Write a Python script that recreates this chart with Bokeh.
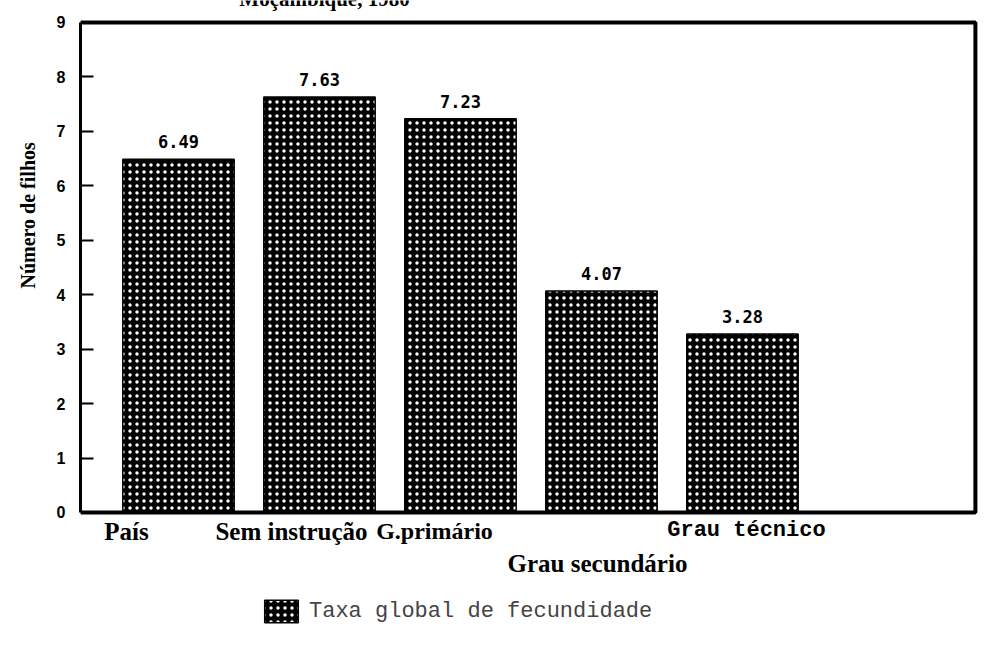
from bokeh.plotting import figure
from bokeh.models import (ColumnDataSource, LabelSet, Label, Range1d, FixedTicker,
                          Legend, LegendItem, Title)
from bokeh.core.properties import value
from bokeh.embed import file_html
from bokeh.resources import INLINE

# ---- data ----
categories = ["País", "Sem instrução", "G.primário", "Grau secundário", "Grau técnico"]
tgf = [6.49, 7.63, 7.23, 4.07, 3.28]
value_text = ["6.49", "7.63", "7.23", "4.07", "3.28"]
y_ticks = [0, 1, 2, 3, 4, 5, 6, 7, 8, 9]
title_text = "Moçambique, 1980"
legend_text = "Taxa global de fecundidade"
y_title = "Número de filhos"

# ---- style (label nudges in pixels, fonts) ----
label_dx = [-52, -28, -26, -4, 4]
label_dy = [-6, -6, -6, -38, -6]
label_font = ["Liberation Serif"] * 4 + ["Liberation Mono"]
label_size = ["25px", "25px", "24px", "25px", "22px"]

Y_MAX = 9
BOX_RIGHT = 5.652
X_LEFT = -0.695

idx = list(range(len(categories)))
src = ColumnDataSource(dict(x=idx, top=tgf, vt=value_text))
cat_src = ColumnDataSource(dict(x=idx, y=[0] * len(idx), cat=categories,
                                dx=label_dx, dy=label_dy, font=label_font,
                                size=label_size))

p = figure(width=1000, height=645, output_backend="svg", toolbar_location=None,
           x_range=Range1d(X_LEFT, 5.83), y_range=Range1d(-2.443, 9.404),
           min_border_left=80, min_border_right=0, min_border_top=0,
           min_border_bottom=0)
p.background_fill_color = "white"
p.border_fill_color = "white"
p.outline_line_color = None
p.xgrid.visible = False
p.ygrid.visible = False
p.xaxis.visible = False

# chart box (top, right and bottom edges)
p.line(x=[X_LEFT, BOX_RIGHT, BOX_RIGHT, X_LEFT], y=[Y_MAX, Y_MAX, 0, 0],
       line_color="black", line_width=4)

bars = p.vbar(x="x", top="top", width=0.79, source=src, fill_color="black",
              line_color="black", line_width=1.5,
              hatch_pattern="dot", hatch_color="white", hatch_scale=7, hatch_weight=2)

yax = p.yaxis[0]
yax.bounds = (0, Y_MAX)
yax.ticker = FixedTicker(ticks=y_ticks)
yax.minor_tick_line_color = None
yax.major_tick_in = 13
yax.major_tick_out = 0
yax.major_tick_line_width = 2
yax.axis_line_width = 3
yax.major_label_standoff = 15
yax.major_label_text_font = "Liberation Sans"
yax.major_label_text_font_style = "bold"
yax.major_label_text_font_size = "16px"
yax.major_label_text_color = "black"

# rotated axis title, placed along the 0-9 scale
p.add_layout(Title(text=y_title, align="left", offset=357, standoff=26,
                   vertical_align="top",
                   text_font="Liberation Serif", text_font_style="bold",
                   text_font_size="20px", text_color="black"), "left")

p.add_layout(LabelSet(x="x", y="top", text="vt", source=src, y_offset=11,
                      text_align="center", text_baseline="bottom",
                      text_font=value("DejaVu Sans Mono"), text_font_style="bold",
                      text_font_size="17px", text_color="black"))

p.add_layout(LabelSet(x="x", y="y", text="cat", source=cat_src,
                      x_offset="dx", y_offset="dy",
                      text_align="center", text_baseline="top",
                      text_font="font", text_font_style="bold",
                      text_font_size="size", text_color="black"))

p.add_layout(Label(x=1, y=Y_MAX, x_offset=5, y_offset=23, text=title_text,
                   text_align="center", text_baseline="alphabetic",
                   text_font="Liberation Serif", text_font_style="bold",
                   text_font_size="21px", text_color="black"))

legend = Legend(items=[LegendItem(label=legend_text, renderers=[bars])],
                location=(180, 20), orientation="horizontal",
                background_fill_alpha=0, border_line_color=None,
                padding=0, margin=0, glyph_width=42, glyph_height=28,
                label_text_font="Liberation Mono", label_text_font_size="22px",
                label_standoff=7, label_height=28)
p.add_layout(legend, "center")

open("out.html", "w").write(file_html(p, INLINE))
